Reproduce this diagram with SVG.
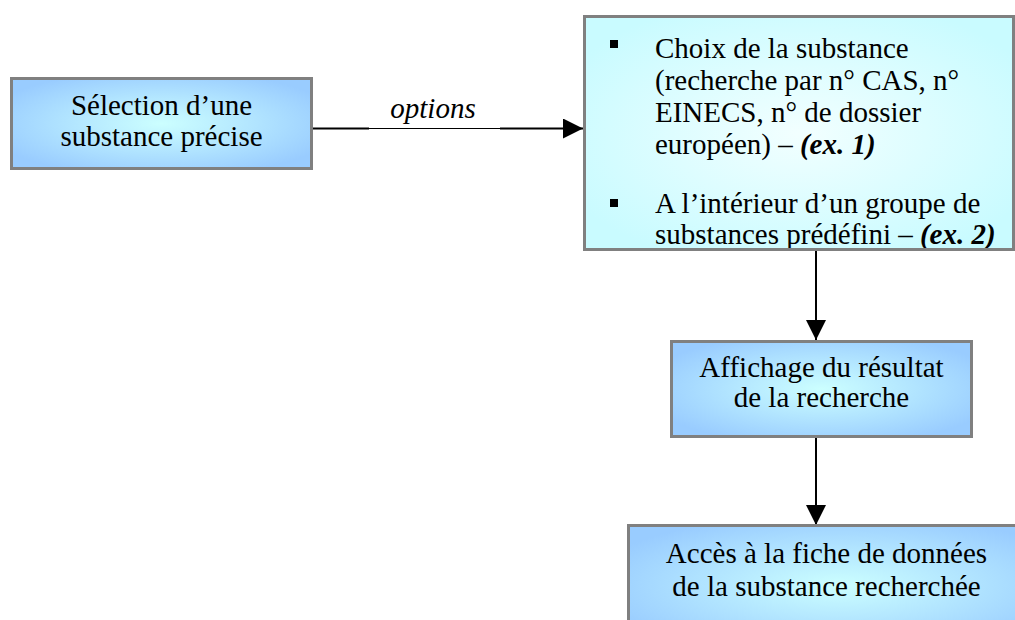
<svg xmlns="http://www.w3.org/2000/svg" width="1015" height="620" viewBox="0 0 1015 620">
  <style>
    .t { font-family: "Liberation Serif", "Times New Roman", serif; font-size: 29px; fill: #000; }
    .c { text-anchor: middle; }
    .box { stroke: #808080; stroke-width: 3; }
    .bi { font-weight: bold; font-style: italic; }
    .conn { stroke: #000; fill: none; }
  </style>
  <defs>
    <radialGradient id="gBlue" cx="50%" cy="50%" r="60%">
      <stop offset="0" stop-color="#ccffff"/>
      <stop offset="1" stop-color="#99ccff"/>
    </radialGradient>
    <radialGradient id="gCyan" cx="50%" cy="50%" r="60%">
      <stop offset="0" stop-color="#f2ffff"/>
      <stop offset="1" stop-color="#c9fbff"/>
    </radialGradient>
    <clipPath id="clip2">
      <rect x="584.5" y="16.5" width="429" height="233"/>
    </clipPath>
    <marker id="arr" markerUnits="userSpaceOnUse" markerWidth="20" markerHeight="20" refX="20" refY="10" orient="auto" viewBox="0 0 20 20">
      <path d="M0,0 L20,10 L0,20 Z" fill="#000"/>
    </marker>
  </defs>

  <g id="connectors">
    <path class="conn" d="M313,128.5 H369" stroke-width="2"/>
    <path class="conn" d="M368,128.5 H501" stroke-width="1"/>
    <path class="conn" d="M500,128.5 H583" stroke-width="2" marker-end="url(#arr)"/>
    <text class="t c" x="433" y="118" font-style="italic">options</text>
    <path class="conn" d="M816,251 V340" stroke-width="2" marker-end="url(#arr)"/>
    <path class="conn" d="M816,438 V525" stroke-width="2" marker-end="url(#arr)"/>
  </g>

  <g id="node-selection">
    <rect class="box" x="11.5" y="78.5" width="300" height="90" fill="url(#gBlue)"/>
    <text class="t c" x="161.5" y="115">Sélection d’une</text>
    <text class="t c" x="161.5" y="146">substance précise</text>
  </g>

  <g id="node-options">
    <rect x="584.5" y="16.5" width="429" height="233" fill="url(#gCyan)"/>
    <g clip-path="url(#clip2)">
      <rect x="610" y="40" width="8" height="8" fill="#000"/>
      <text class="t" x="655" y="58">Choix de la substance</text>
      <text class="t" x="655" y="90">(recherche par n° CAS, n°</text>
      <text class="t" x="655" y="122">EINECS, n° de dossier</text>
      <text class="t" x="655" y="154">européen) – <tspan class="bi">(ex. 1)</tspan></text>
      <rect x="610" y="199" width="8" height="8" fill="#000"/>
      <text class="t" x="655" y="213">A l’intérieur d’un groupe de</text>
      <text class="t" x="655" y="244">substances prédéfini – <tspan class="bi">(ex. 2)</tspan></text>
    </g>
    <rect class="box" x="584.5" y="16.5" width="429" height="233" fill="none"/>
  </g>

  <g id="node-affichage">
    <rect class="box" x="671.5" y="341.5" width="300" height="95" fill="url(#gBlue)"/>
    <text class="t c" x="821.5" y="377">Affichage du résultat</text>
    <text class="t c" x="821.5" y="407">de la recherche</text>
  </g>

  <g id="node-acces">
    <rect class="box" x="628.5" y="525.5" width="420" height="120" fill="url(#gBlue)"/>
    <text class="t c" x="826.5" y="563">Accès à la fiche de données</text>
    <text class="t c" x="826.5" y="596">de la substance recherchée</text>
  </g>
</svg>
